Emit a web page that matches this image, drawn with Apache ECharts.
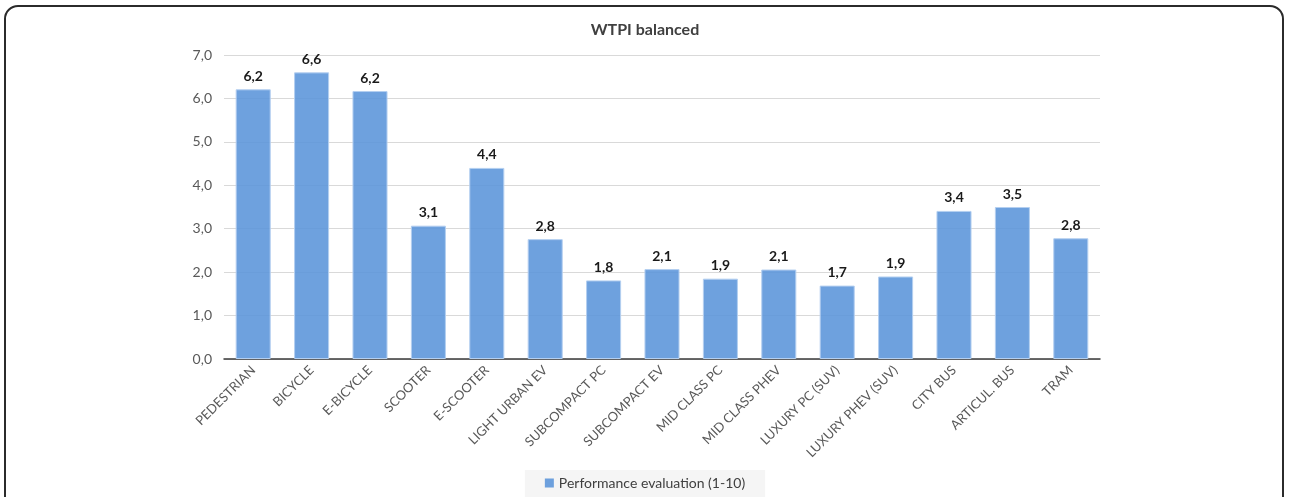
<!DOCTYPE html>
<html>
<head>
<meta charset="utf-8">
<script src="https://cdn.jsdelivr.net/npm/echarts@6/dist/echarts.min.js"></script>
<style>
  html, body { margin: 0; padding: 0; background: #fff; overflow: hidden; }
  #frame { position: absolute; left: 4px; top: 5px; width: 1280px; height: 520px;
           border: 2px solid #2b2b2b; border-radius: 14px; box-sizing: border-box; }
  #chart { position: absolute; left: 0; top: 0; width: 1290px; height: 497px; }
</style>
</head>
<body>
<div id="frame"></div>
<div id="chart"></div>
<script>
const categories = ['PEDESTRIAN', 'BICYCLE', 'E-BICYCLE', 'SCOOTER', 'E-SCOOTER', 'LIGHT URBAN EV',
  'SUBCOMPACT PC', 'SUBCOMPACT EV', 'MID CLASS PC', 'MID CLASS PHEV', 'LUXURY PC (SUV)',
  'LUXURY PHEV (SUV)', 'CITY BUS', 'ARTICUL. BUS', 'TRAM'];
const performance = [6.21, 6.6, 6.17, 3.07, 4.4, 2.76, 1.81, 2.07, 1.85, 2.06, 1.69, 1.9, 3.41, 3.5, 2.78];
const seriesName = 'Performance evaluation (1-10)';
const chartTitle = 'WTPI balanced';

const fmt = v => v.toFixed(1).replace('.', ',');
const font = 'Lato, "Open Sans", sans-serif';

const chart = echarts.init(document.getElementById('chart'), null, { renderer: 'canvas' });
chart.setOption({
  animation: false,
  textStyle: { fontFamily: font },
  title: {
    text: chartTitle, left: 'center', top: 17,
    textStyle: { fontSize: 16, fontWeight: 'bold', color: '#404040', fontFamily: font }
  },
  legend: {
    bottom: 0, left: 'center',
    itemWidth: 9, itemHeight: 9, icon: 'rect', itemGap: 10,
    itemStyle: { borderWidth: 0 },
    backgroundColor: '#f5f5f5', padding: [6, 20, 7, 20],
    textStyle: { fontSize: 14, color: '#404040', fontFamily: font },
    data: [seriesName]
  },
  grid: { left: 224, right: 190, top: 55, bottom: 138 },
  xAxis: {
    type: 'category', data: categories,
    axisLine: { lineStyle: { color: '#3a3a3a', width: 1.5 } },
    axisTick: { show: false },
    axisLabel: { rotate: 45, interval: 0, fontSize: 13, color: '#595959', margin: 9, fontFamily: font }
  },
  yAxis: {
    type: 'value', min: 0, max: 7, interval: 1,
    axisLine: { show: false }, axisTick: { show: false },
    splitLine: { lineStyle: { color: '#d9d9d9', width: 1 } },
    axisLabel: { formatter: v => fmt(v), fontSize: 14, color: '#595959', margin: 12, fontFamily: font }
  },
  series: [{
    name: seriesName, type: 'bar', data: performance,
    barCategoryGap: '40%',
    itemStyle: { color: 'rgba(90,148,217,0.88)', borderColor: '#b4cff0', borderWidth: 1 },
    label: {
      show: true, position: 'top', distance: 6,
      formatter: p => fmt(p.value),
      fontSize: 14, fontWeight: 'bold', color: '#1a1a1a', fontFamily: font
    }
  }]
});
</script>
</body>
</html>
